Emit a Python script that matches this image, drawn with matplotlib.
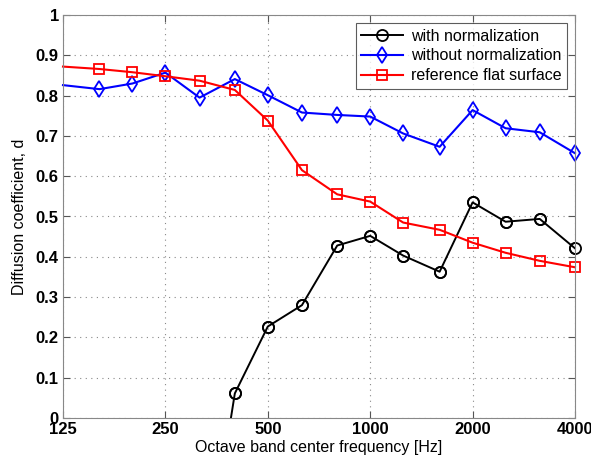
import matplotlib
matplotlib.use("Agg")
import matplotlib.pyplot as plt
from matplotlib.ticker import FixedLocator, NullLocator

plt.rcParams['font.family'] = ['Liberation Sans', 'DejaVu Sans']

# third-octave band centres
freqs = [125, 160, 200, 250, 315, 400, 500, 630, 800, 1000, 1250, 1600, 2000, 2500, 3150, 4000]

# with normalization (starts at 315 Hz, value there is below 0 and clipped)
freqs_norm = [315, 400, 500, 630, 800, 1000, 1250, 1600, 2000, 2500, 3150, 4000]
d_norm = [-0.49, 0.061, 0.227, 0.280, 0.428, 0.452, 0.403, 0.363, 0.535, 0.487, 0.494, 0.421]

d_no_norm = [0.826, 0.816, 0.830, 0.857, 0.795, 0.841, 0.801, 0.758, 0.752, 0.748,
             0.706, 0.673, 0.764, 0.719, 0.709, 0.657]
d_flat = [0.872, 0.866, 0.858, 0.848, 0.837, 0.814, 0.738, 0.615, 0.555, 0.537,
          0.485, 0.467, 0.435, 0.410, 0.390, 0.374]

xticks = [125, 250, 500, 1000, 2000, 4000]
yticks = [0, 0.1, 0.2, 0.3, 0.4, 0.5, 0.6, 0.7, 0.8, 0.9, 1]

fig = plt.figure(figsize=(5.91, 4.61), dpi=100)
ax = fig.add_axes([63 / 591, 1 - 418 / 461, 512 / 591, 403 / 461])

# the reference shows no marker at the 125 Hz edge, but full markers at 4000 Hz
skip_first = list(range(1, len(freqs)))
ax.plot(freqs_norm, d_norm, 'k-o', lw=1.4, ms=8, mfc='none', mew=1.3,
        markevery=list(range(1, len(freqs_norm))), label='with normalization')
ax.plot(freqs_norm[1:], d_norm[1:], 'ko', ms=8, mfc='none', mew=1.3, clip_on=False)
ax.plot(freqs, d_no_norm, 'b-d', lw=1.5, ms=8, mfc='none', mew=1.3, markevery=skip_first,
        clip_on=False, label='without normalization')
ax.plot(freqs, d_flat, 'r-s', lw=1.5, ms=7, mfc='none', mew=1.3, markevery=skip_first,
        clip_on=False, label='reference flat surface')

ax.set_xscale('log')
ax.set_xlim(125, 4000)
ax.set_ylim(0, 1)
ax.xaxis.set_major_locator(FixedLocator(xticks))
ax.xaxis.set_minor_locator(NullLocator())
ax.set_xticklabels([str(t) for t in xticks])
ax.set_yticks(yticks)
ax.set_yticklabels(['0', '0.1', '0.2', '0.3', '0.4', '0.5', '0.6', '0.7', '0.8', '0.9', '1'])
for lab in ax.get_xticklabels() + ax.get_yticklabels():
    lab.set_fontweight('bold')
    lab.set_fontsize(12)
ax.tick_params(direction='in', top=True, right=True, length=5, color='#555555', pad=3)
ax.grid(True, linestyle=(0, (1, 4)), color='#888888', lw=0.8)
for s in ax.spines.values():
    s.set_color('#888888')

ax.set_xlabel('Octave band center frequency [Hz]', fontsize=11.5, labelpad=2)
ax.set_ylabel('Diffusion coefficient, d', fontsize=11.5, labelpad=6)

leg = ax.legend(loc='upper right', fontsize=11.5, fancybox=False, edgecolor='#333333',
                borderaxespad=0.5, handlelength=2.6, handletextpad=0.5,
                labelspacing=0.3, borderpad=0.35)
leg.get_frame().set_linewidth(0.8)
leg.set_zorder(5)

fig.savefig('out.png', dpi=100)
